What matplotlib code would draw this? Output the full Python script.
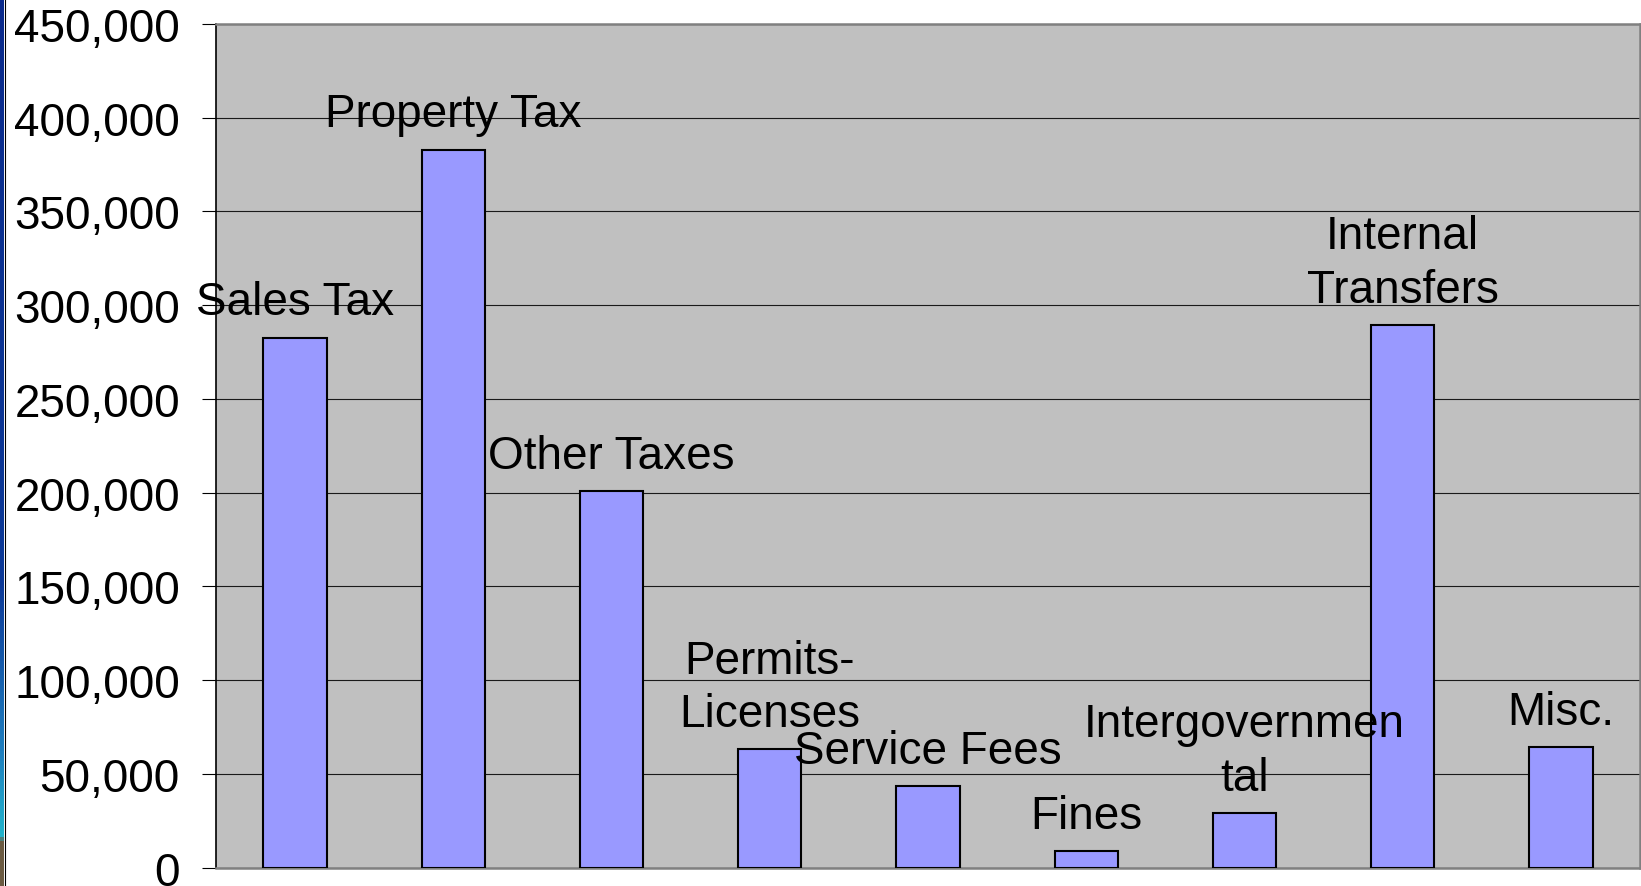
import numpy as np
import matplotlib
matplotlib.use("Agg")
import matplotlib.pyplot as plt
from matplotlib.colors import LinearSegmentedColormap
from matplotlib.ticker import FuncFormatter

plt.rcParams['font.family'] = ['Liberation Sans', 'DejaVu Sans']

# revenue by source
categories = ["Sales Tax", "Property Tax", "Other Taxes", "Permits-\nLicenses",
              "Service Fees", "Fines", "Intergovernmen\ntal", "Internal\nTransfers", "Misc."]
revenue = [282700, 383000, 200900, 63000, 43500, 8700, 29200, 289500, 64100]
yticks = np.arange(0, 450001, 50000)

fig = plt.figure(figsize=(16.41, 8.87), dpi=100)
fig.patch.set_facecolor("white")

# thin slide-edge strip on the left
strip = fig.add_axes([0, 0, 4 / 1641, 1])
edge_cmap = LinearSegmentedColormap.from_list(
    "edge", [(0.0, "#0b2b8c"), (0.66, "#0d3a98"), (0.85, "#1f7fbf"),
             (0.945, "#22b4cc"), (0.952, "#6b5b42"), (1.0, "#6b5b42")])
strip.imshow(np.linspace(0, 1, 256).reshape(-1, 1), aspect="auto", cmap=edge_cmap)
strip.axis("off")
fig.add_artist(plt.Line2D([4.5 / 1641] * 2, [0, 1], color="black", lw=0.8))

ax = fig.add_axes([216 / 1641, 18.4 / 887, 1424 / 1641, 843.6 / 887])
ax.set_facecolor("#c0c0c0")

x = np.arange(len(categories))
ax.bar(x, revenue, width=0.4, color="#9999ff", edgecolor="black", linewidth=1.5, zorder=3)

ax.set_xlim(-0.5, len(categories) - 0.5)
ax.set_ylim(0, 450000)
ax.set_yticks(yticks)
ax.yaxis.set_major_formatter(FuncFormatter(lambda v, p: "{:,.0f}".format(v)))
ax.tick_params(axis="y", length=10, width=0.8, pad=16, labelsize=33, direction="out")
ax.set_xticks([])
ax.yaxis.grid(True, color="#1a1a1a", linewidth=0.8)
ax.set_axisbelow(True)

for side in ["top", "right", "bottom"]:
    ax.spines[side].set_color("#808080")
    ax.spines[side].set_linewidth(1.8)
ax.spines["left"].set_color("black")
ax.spines["left"].set_linewidth(1.2)

# category names sit just above each bar
for xi, val, name in zip(x, revenue, categories):
    ax.annotate(name, xy=(xi, val), xytext=(0, 9.5), textcoords="offset points",
                ha="center", va="bottom", fontsize=33, linespacing=1.28,
                multialignment="center", zorder=4, annotation_clip=False)

fig.savefig("out.png", dpi=100)
